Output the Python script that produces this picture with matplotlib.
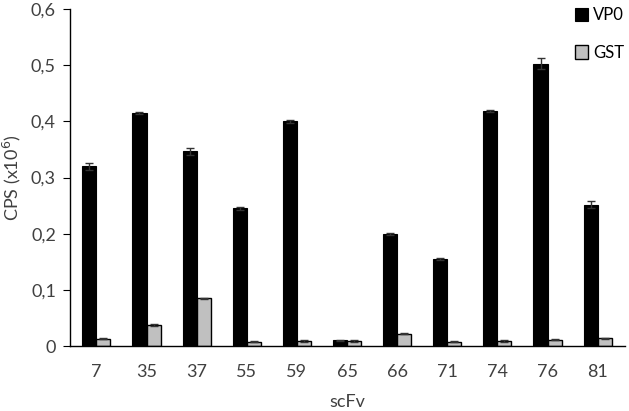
import numpy as np
import matplotlib
matplotlib.use('Agg')
import matplotlib.pyplot as plt
from matplotlib.ticker import FuncFormatter

plt.rcParams['font.family'] = ['Lato', 'DejaVu Sans']

categories = ['7', '35', '37', '55', '59', '65', '66', '71', '74', '76', '81']
vp0 = [0.320, 0.415, 0.347, 0.245, 0.400, 0.010, 0.200, 0.155, 0.418, 0.503, 0.252]
vp0_err = [0.006, 0.002, 0.006, 0.002, 0.002, 0.001, 0.002, 0.002, 0.002, 0.010, 0.006]
gst = [0.013, 0.038, 0.085, 0.008, 0.009, 0.009, 0.022, 0.008, 0.009, 0.011, 0.014]
gst_err = [0.001, 0.002, 0.001, 0.001, 0.001, 0.001, 0.001, 0.001, 0.001, 0.001, 0.001]

x = np.arange(len(categories))
w = 0.28

fig = plt.figure(figsize=(6.29, 4.11), dpi=100)
ax = fig.add_axes([0.111, 0.158, 0.883, 0.82])

ax.bar(x - w / 2, vp0, w, color='black', edgecolor='black', linewidth=0.8,
       yerr=vp0_err, error_kw=dict(ecolor='#333333', capsize=3, elinewidth=1), label='VP0')
ax.bar(x + w / 2, gst, w, color='#c0c0c0', edgecolor='black', linewidth=1,
       yerr=gst_err, error_kw=dict(ecolor='#333333', capsize=3, elinewidth=1), label='GST')

ax.set_xlim(-0.53, len(categories) - 0.45)
ax.set_ylim(0, 0.6)
ax.set_yticks(np.arange(0, 0.61, 0.1))
ax.yaxis.set_major_formatter(FuncFormatter(lambda v, p: '0' if v == 0 else f'{v:.1f}'.replace('.', ',')))
ax.set_xticks(x)
ax.set_xticklabels(categories)
ax.tick_params(axis='x', length=0, pad=13, labelsize=13, colors='#404040')
ax.tick_params(axis='y', direction='out', length=5, pad=5, labelsize=13, colors='#404040')
ax.tick_params(axis='both', color='black')
for s in ['top', 'right']:
    ax.spines[s].set_visible(False)
ax.spines['left'].set_linewidth(1)
ax.spines['bottom'].set_linewidth(1)

ax.set_xlabel('scFv', fontsize=13, color='#404040', labelpad=10)
ax.set_ylabel('CPS (x10$^6$)', fontsize=13, color='#404040', labelpad=6)

ax.legend(loc='upper right', bbox_to_anchor=(1.025, 1.05), frameon=False,
          handlelength=0.8, handleheight=0.9, labelspacing=1.3, handletextpad=0.3,
          fontsize=12)

fig.savefig('out.png', dpi=100)
